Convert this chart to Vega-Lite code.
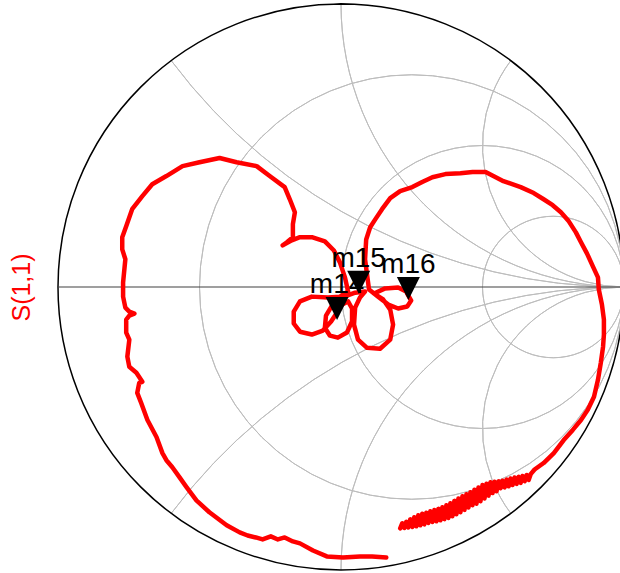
{
  "$schema": "https://vega.github.io/schema/vega-lite/v6.json",
  "width": 562,
  "height": 566,
  "autosize": {"type": "none"},
  "padding": {"left": 58, "top": 4, "right": 0, "bottom": 3},
  "background": "white",
  "config": {"view": {"stroke": null}},
  "datasets": {
    "grid": [
      {"x": 0.25, "y": 0, "R": 0.75, "t0": 0, "t1": 6.2832},
      {"x": 0.5, "y": 0, "R": 0.5, "t0": 0, "t1": 6.2832},
      {"x": 0.75, "y": 0, "R": 0.25, "t0": 0, "t1": 6.2832},
      {"x": 1, "y": 2, "R": 2, "t0": 3.1416, "t1": 4.0689},
      {"x": 1, "y": 1, "R": 1, "t0": 3.1416, "t1": 4.7124},
      {"x": 1, "y": 0.5, "R": 0.5, "t0": 3.1416, "t1": 5.3559},
      {"x": 1, "y": -2, "R": 2, "t0": -0.9273, "t1": 0},
      {"x": 1, "y": -1, "R": 1, "t0": -1.5708, "t1": 0},
      {"x": 1, "y": -0.5, "R": 0.5, "t0": -2.2143, "t1": 0}
    ],
    "outer": [{"x": 0, "y": 0, "R": 1, "t0": 0, "t1": 6.2832}],
    "axisline": [{"x": -1, "x2": 1, "y": 0}],
    "markers": [
      {"m": "m14", "x": -0.014, "y": -0.117},
      {"m": "m15", "x": 0.0625, "y": -0.024},
      {"m": "m16", "x": 0.238, "y": -0.046}
    ],
    "s11": [
      {"i":1,"x":0.160,"y":-0.956},{"i":2,"x":0.110,"y":-0.952},{"i":3,"x":0.067,"y":-0.952},{"i":4,"x":0.007,"y":-0.956},
      {"i":5,"x":-0.050,"y":-0.952},{"i":6,"x":-0.099,"y":-0.931},{"i":7,"x":-0.145,"y":-0.906},{"i":8,"x":-0.170,"y":-0.899},
      {"i":9,"x":-0.199,"y":-0.885},{"i":10,"x":-0.223,"y":-0.892},{"i":11,"x":-0.248,"y":-0.881},{"i":12,"x":-0.277,"y":-0.892},
      {"i":13,"x":-0.301,"y":-0.885},{"i":14,"x":-0.330,"y":-0.878},{"i":15,"x":-0.358,"y":-0.867},{"i":16,"x":-0.404,"y":-0.842},
      {"i":17,"x":-0.465,"y":-0.796},{"i":18,"x":-0.511,"y":-0.754},{"i":19,"x":-0.546,"y":-0.707},{"i":20,"x":-0.571,"y":-0.672},
      {"i":21,"x":-0.596,"y":-0.637},{"i":22,"x":-0.617,"y":-0.612},{"i":23,"x":-0.631,"y":-0.587},{"i":24,"x":-0.652,"y":-0.530},
      {"i":25,"x":-0.684,"y":-0.470},{"i":26,"x":-0.706,"y":-0.410},{"i":27,"x":-0.720,"y":-0.374},{"i":28,"x":-0.713,"y":-0.339},
      {"i":29,"x":-0.702,"y":-0.335},{"i":30,"x":-0.723,"y":-0.303},{"i":31,"x":-0.748,"y":-0.282},{"i":32,"x":-0.755,"y":-0.246},
      {"i":33,"x":-0.748,"y":-0.186},{"i":34,"x":-0.759,"y":-0.161},{"i":35,"x":-0.759,"y":-0.115},{"i":36,"x":-0.748,"y":-0.101},
      {"i":37,"x":-0.730,"y":-0.094},{"i":38,"x":-0.748,"y":-0.087},{"i":39,"x":-0.762,"y":-0.073},{"i":40,"x":-0.770,"y":-0.034},
      {"i":41,"x":-0.770,"y":0.016},{"i":42,"x":-0.762,"y":0.098},{"i":43,"x":-0.773,"y":0.133},{"i":44,"x":-0.773,"y":0.176},
      {"i":45,"x":-0.759,"y":0.215},{"i":46,"x":-0.738,"y":0.275},{"i":47,"x":-0.702,"y":0.321},{"i":48,"x":-0.667,"y":0.363},
      {"i":49,"x":-0.617,"y":0.392},{"i":50,"x":-0.560,"y":0.427},{"i":51,"x":-0.500,"y":0.441},{"i":52,"x":-0.429,"y":0.456},
      {"i":53,"x":-0.369,"y":0.441},{"i":54,"x":-0.298,"y":0.427},{"i":55,"x":-0.252,"y":0.392},{"i":56,"x":-0.199,"y":0.353},
      {"i":57,"x":-0.181,"y":0.310},{"i":58,"x":-0.163,"y":0.264},{"i":59,"x":-0.170,"y":0.222},{"i":60,"x":-0.170,"y":0.176},
      {"i":61,"x":-0.191,"y":0.158},{"i":62,"x":-0.206,"y":0.147},{"i":63,"x":-0.174,"y":0.165},{"i":64,"x":-0.145,"y":0.176},
      {"i":65,"x":-0.103,"y":0.176},{"i":66,"x":-0.057,"y":0.161},{"i":67,"x":-0.025,"y":0.129},{"i":68,"x":-0.004,"y":0.087},
      {"i":69,"x":0.014,"y":0.034},{"i":70,"x":0.025,"y":-0.016},{"i":71,"x":-0.004,"y":-0.034},{"i":72,"x":-0.046,"y":-0.037},
      {"i":73,"x":-0.103,"y":-0.034},{"i":74,"x":-0.145,"y":-0.051},{"i":75,"x":-0.167,"y":-0.087},{"i":76,"x":-0.167,"y":-0.129},
      {"i":77,"x":-0.145,"y":-0.158},{"i":78,"x":-0.103,"y":-0.168},{"i":79,"x":-0.064,"y":-0.154},{"i":80,"x":-0.035,"y":-0.122},
      {"i":81,"x":-0.014,"y":-0.090},{"i":82,"x":0.004,"y":-0.062},{"i":83,"x":0.025,"y":-0.051},{"i":84,"x":0.039,"y":-0.076},
      {"i":85,"x":0.039,"y":-0.122},{"i":86,"x":0.021,"y":-0.161},{"i":87,"x":-0.011,"y":-0.179},{"i":88,"x":-0.039,"y":-0.172},
      {"i":89,"x":-0.057,"y":-0.144},{"i":90,"x":-0.053,"y":-0.101},{"i":91,"x":-0.032,"y":-0.066},{"i":92,"x":0.004,"y":-0.037},
      {"i":93,"x":0.050,"y":-0.020},{"i":94,"x":0.085,"y":-0.016},{"i":95,"x":0.067,"y":-0.037},{"i":96,"x":0.050,"y":-0.073},
      {"i":97,"x":0.046,"y":-0.133},{"i":98,"x":0.060,"y":-0.186},{"i":99,"x":0.092,"y":-0.215},{"i":100,"x":0.138,"y":-0.218},
      {"i":101,"x":0.174,"y":-0.186},{"i":102,"x":0.184,"y":-0.133},{"i":103,"x":0.174,"y":-0.080},{"i":104,"x":0.149,"y":-0.044},
      {"i":105,"x":0.117,"y":-0.023},{"i":106,"x":0.156,"y":-0.005},{"i":107,"x":0.202,"y":-0.002},{"i":108,"x":0.230,"y":-0.016},
      {"i":109,"x":0.248,"y":-0.048},{"i":110,"x":0.234,"y":-0.069},{"i":111,"x":0.202,"y":-0.076},{"i":112,"x":0.167,"y":-0.062},
      {"i":113,"x":0.131,"y":-0.034},{"i":114,"x":0.099,"y":-0.009},{"i":115,"x":0.092,"y":0.044},{"i":116,"x":0.085,"y":0.098},
      {"i":117,"x":0.089,"y":0.168},{"i":118,"x":0.103,"y":0.211},{"i":119,"x":0.121,"y":0.239},{"i":120,"x":0.145,"y":0.275},
      {"i":121,"x":0.174,"y":0.314},{"i":122,"x":0.209,"y":0.339},{"i":123,"x":0.252,"y":0.353},{"i":124,"x":0.287,"y":0.371},
      {"i":125,"x":0.323,"y":0.388},{"i":126,"x":0.369,"y":0.399},{"i":127,"x":0.422,"y":0.402},{"i":128,"x":0.465,"y":0.406},
      {"i":129,"x":0.511,"y":0.406},{"i":130,"x":0.574,"y":0.374},{"i":131,"x":0.635,"y":0.353},{"i":132,"x":0.681,"y":0.332},
      {"i":133,"x":0.716,"y":0.310},{"i":134,"x":0.748,"y":0.289},{"i":135,"x":0.777,"y":0.264},{"i":136,"x":0.805,"y":0.232},
      {"i":137,"x":0.830,"y":0.193},{"i":138,"x":0.848,"y":0.158},{"i":139,"x":0.869,"y":0.119},{"i":140,"x":0.890,"y":0.073},
      {"i":141,"x":0.908,"y":0.034},{"i":142,"x":0.911,"y":-0.009},{"i":143,"x":0.922,"y":-0.062},{"i":144,"x":0.929,"y":-0.115},
      {"i":145,"x":0.929,"y":-0.168},{"i":146,"x":0.926,"y":-0.211},{"i":147,"x":0.918,"y":-0.268},{"i":148,"x":0.908,"y":-0.328},
      {"i":149,"x":0.894,"y":-0.388},{"i":150,"x":0.872,"y":-0.434},{"i":151,"x":0.848,"y":-0.470},{"i":152,"x":0.819,"y":-0.505},
      {"i":153,"x":0.787,"y":-0.541},{"i":154,"x":0.752,"y":-0.587},{"i":155,"x":0.716,"y":-0.622},{"i":156,"x":0.684,"y":-0.645},
      {"i":157,"x":0.6702,"y":-0.6613},{"i":158,"x":0.6631,"y":-0.6816},{"i":159,"x":0.6560,"y":-0.6642},{"i":160,"x":0.6489,"y":-0.6862},
      {"i":161,"x":0.6418,"y":-0.6677},{"i":162,"x":0.6348,"y":-0.6922},{"i":163,"x":0.6277,"y":-0.6706},{"i":164,"x":0.6206,"y":-0.6957},
      {"i":165,"x":0.6135,"y":-0.6730},{"i":166,"x":0.6064,"y":-0.6996},{"i":167,"x":0.5993,"y":-0.6766},{"i":168,"x":0.5922,"y":-0.7043},
      {"i":169,"x":0.5851,"y":-0.6805},{"i":170,"x":0.5780,"y":-0.7082},{"i":171,"x":0.5709,"y":-0.6844},{"i":172,"x":0.5638,"y":-0.7110},
      {"i":173,"x":0.5567,"y":-0.6869},{"i":174,"x":0.5496,"y":-0.7216},{"i":175,"x":0.5426,"y":-0.6883},{"i":176,"x":0.5355,"y":-0.7280},
      {"i":177,"x":0.5284,"y":-0.6897},{"i":178,"x":0.5213,"y":-0.7372},{"i":179,"x":0.5142,"y":-0.6954},{"i":180,"x":0.5071,"y":-0.7472},
      {"i":181,"x":0.5000,"y":-0.6996},{"i":182,"x":0.4929,"y":-0.7571},{"i":183,"x":0.4858,"y":-0.7082},{"i":184,"x":0.4787,"y":-0.7660},
      {"i":185,"x":0.4716,"y":-0.7167},{"i":186,"x":0.4645,"y":-0.7713},{"i":187,"x":0.4574,"y":-0.7252},{"i":188,"x":0.4504,"y":-0.7791},
      {"i":189,"x":0.4433,"y":-0.7323},{"i":190,"x":0.4362,"y":-0.7876},{"i":191,"x":0.4291,"y":-0.7394},{"i":192,"x":0.4220,"y":-0.7961},
      {"i":193,"x":0.4149,"y":-0.7472},{"i":194,"x":0.4078,"y":-0.8032},{"i":195,"x":0.4007,"y":-0.7557},{"i":196,"x":0.3936,"y":-0.8103},
      {"i":197,"x":0.3865,"y":-0.7642},{"i":198,"x":0.3794,"y":-0.8160},{"i":199,"x":0.3723,"y":-0.7713},{"i":200,"x":0.3652,"y":-0.8202},
      {"i":201,"x":0.3582,"y":-0.7784},{"i":202,"x":0.3511,"y":-0.8245},{"i":203,"x":0.3440,"y":-0.7840},{"i":204,"x":0.3369,"y":-0.8280},
      {"i":205,"x":0.3298,"y":-0.7883},{"i":206,"x":0.3227,"y":-0.8301},{"i":207,"x":0.3156,"y":-0.7926},{"i":208,"x":0.3085,"y":-0.8337},
      {"i":209,"x":0.3014,"y":-0.7979},{"i":210,"x":0.2943,"y":-0.8387},{"i":211,"x":0.2872,"y":-0.8011},{"i":212,"x":0.2801,"y":-0.8422},
      {"i":213,"x":0.2730,"y":-0.8067},{"i":214,"x":0.2660,"y":-0.8457},{"i":215,"x":0.2589,"y":-0.8138},{"i":216,"x":0.2518,"y":-0.8479},
      {"i":217,"x":0.2447,"y":-0.8209},{"i":218,"x":0.2376,"y":-0.8500},{"i":219,"x":0.2305,"y":-0.8298},{"i":220,"x":0.2234,"y":-0.8514},
      {"i":221,"x":0.2163,"y":-0.8351},{"i":222,"x":0.2092,"y":-0.8528}
    ]
  },
  "encoding": {
    "x": {"field": "x", "type": "quantitative", "scale": {"domain": [-1, 0.98587], "nice": false, "zero": false}, "axis": null},
    "y": {"field": "y", "type": "quantitative", "scale": {"domain": [-1, 1], "nice": false, "zero": false},
      "axis": {"title": "S(1,1)", "titleColor": "#ff0000", "titleFontSize": 25, "titleFont": "Liberation Sans", "titleFontWeight": "normal",
        "labels": false, "ticks": false, "domain": false, "grid": false, "titlePadding": 24}}
  },
  "layer": [
    {
      "data": {"name": "grid"},
      "mark": {"type": "arc", "filled": false, "stroke": "#bdbdbd", "strokeWidth": 1},
      "encoding": {
        "theta": {"field": "t0", "type": "quantitative", "scale": null, "stack": null},
        "theta2": {"field": "t1"},
        "radius": {"field": "R", "type": "quantitative", "scale": {"type": "linear", "domain": [0, 1], "range": [0, 283], "zero": true}},
        "radius2": {"field": "R"}
      }
    },
    {
      "data": {"name": "outer"},
      "mark": {"type": "arc", "filled": false, "stroke": "#000000", "strokeWidth": 1.5},
      "encoding": {
        "theta": {"field": "t0", "type": "quantitative", "scale": null, "stack": null},
        "theta2": {"field": "t1"},
        "radius": {"field": "R", "type": "quantitative", "scale": {"type": "linear", "domain": [0, 1], "range": [0, 283], "zero": true}},
        "radius2": {"field": "R"}
      }
    },
    {
      "data": {"name": "axisline"},
      "mark": {"type": "rule", "color": "#404040", "strokeWidth": 1.2},
      "encoding": {"x2": {"field": "x2"}}
    },
    {
      "data": {"name": "s11"},
      "mark": {"type": "line", "color": "#ff0000", "strokeWidth": 4.5, "strokeCap": "round", "strokeJoin": "round"},
      "encoding": {"order": {"field": "i", "type": "quantitative"}}
    },
    {
      "data": {"name": "markers"},
      "mark": {"type": "text", "dy": -27, "fontSize": 28, "font": "Liberation Sans", "align": "center", "baseline": "alphabetic", "color": "#000000"},
      "encoding": {"text": {"field": "m", "type": "nominal"}}
    },
    {
      "data": {"name": "markers"},
      "mark": {"type": "point", "shape": "M-1,-2L1,-2L0,0Z", "size": 529, "filled": true, "color": "#000000", "opacity": 1, "strokeWidth": 0}
    }
  ]
}
